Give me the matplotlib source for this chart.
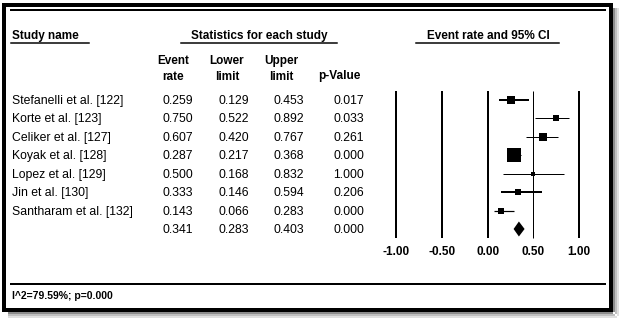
import matplotlib
matplotlib.use("Agg")
import matplotlib.pyplot as plt
from matplotlib.patches import Rectangle

plt.rcParams['font.family'] = ['Liberation Sans', 'DejaVu Sans']

# data
studies = ['Stefanelli et al. [122]', 'Korte et al. [123]', 'Celiker et al. [127]',
           'Koyak et al. [128]', 'Lopez et al. [129]', 'Jin et al. [130]',
           'Santharam et al. [132]', '']
event_rate = [0.259, 0.750, 0.607, 0.287, 0.500, 0.333, 0.143, 0.341]
lower = [0.129, 0.522, 0.420, 0.217, 0.168, 0.146, 0.066, 0.283]
upper = [0.453, 0.892, 0.767, 0.368, 0.832, 0.594, 0.283, 0.403]
p_value = [0.017, 0.033, 0.261, 0.000, 1.000, 0.206, 0.000, 0.000]
ticks = [-1.0, -0.5, 0.0, 0.5, 1.0]
footer = 'I^2=79.59%; p=0.000'

# styles (pixel sizes of boxes and CI lines)
box_px = [7.5, 5.5, 7.5, 14, 4, 5.5, 6.5]
ci_px = [2, 1, 1, 1, 1, 2, 1.2]

W, H, DPI = 622, 321, 100
PT = 72.0 / DPI  # points per pixel

# layout in pixels
row0, row_h = 99.7, 18.47
x0_px, unit_px = 487.65, 91.65

fig = plt.figure(figsize=(W / DPI, H / DPI), dpi=DPI)

# background axes in pixel units
ax = fig.add_axes([0, 0, 1, 1])
ax.set_xlim(0, W)
ax.set_ylim(H, 0)
ax.axis('off')

# drop shadow
for i, a in enumerate([0.45, 0.25, 0.12]):
    ax.add_patch(Rectangle((613 + i * 2, 8), 2, 304 + i * 2, color='black', alpha=a, lw=0))
    ax.add_patch(Rectangle((8, 312 + i * 2), 605 + i * 2, 2, color='black', alpha=a, lw=0))

# outer frame
ax.add_patch(Rectangle((4, 4.5), 607, 305, fill=False, ec='black', lw=4 * PT))
ax.plot([11, 605], [10, 10], color='black', lw=2 * PT)
ax.plot([11, 605], [283.7, 283.7], color='black', lw=2 * PT)

fs = 8.5
fs_row = 8.8
# headers
ax.text(12, 39, 'Study name', fontsize=fs, fontweight='bold')
ax.plot([11, 89], [42.7, 42.7], color='black', lw=1.5 * PT)
ax.text(259.3, 39, 'Statistics for each study', fontsize=fs, fontweight='bold', ha='center')
ax.plot([181, 337], [42.7, 42.7], color='black', lw=1.5 * PT)
ax.text(488, 39, 'Event rate and 95% CI', fontsize=fs, fontweight='bold', ha='center')
ax.plot([416, 559], [42.7, 42.7], color='black', lw=1.5 * PT)

col_heads = [('Event', 'rate', 173.5), ('Lower', 'limit', 227), ('Upper', 'limit', 281)]
for top, bot, cx in col_heads:
    ax.text(cx, 64, top, fontsize=fs, fontweight='bold', ha='center')
    ax.text(cx, 79.5, bot, fontsize=fs, fontweight='bold', ha='center')
ax.text(339.7, 79.5, 'p-Value', fontsize=fs, fontweight='bold', ha='center')

# table rows
for i in range(len(studies)):
    yb = row0 + row_h * i + 4
    ax.text(12, yb, studies[i], fontsize=fs_row)
    ax.text(193.3, yb, f'{event_rate[i]:.3f}', fontsize=fs_row, ha='right')
    ax.text(249.3, yb, f'{lower[i]:.3f}', fontsize=fs_row, ha='right')
    ax.text(303.7, yb, f'{upper[i]:.3f}', fontsize=fs_row, ha='right')
    ax.text(364.3, yb, f'{p_value[i]:.3f}', fontsize=fs_row, ha='right')

ax.text(11.7, 299.3, footer, fontsize=7.5, fontweight='bold')

# forest axes in data units (x = event rate, y = row index)
fax = fig.add_axes([0, 0, 1, 1])
fax.patch.set_alpha(0)
fax.axis('off')
fax.set_xlim(-x0_px / unit_px, (W - x0_px) / unit_px)
fax.set_ylim((H - row0) / row_h, -row0 / row_h)

for t in ticks:
    lw = 1 if t == 0.5 else 2
    fax.vlines(t, -0.487, 7.47, color='black', lw=lw * PT)
    fax.text(t, 8.23, f'{t:.2f}', fontsize=fs, fontweight='bold', ha='center', va='center')

n = len(box_px)
for i in range(n):
    fax.plot([lower[i], upper[i]], [i, i], color='black', lw=ci_px[i] * PT, solid_capstyle='butt')
    fax.plot(event_rate[i], i, marker='s', color='black', markersize=box_px[i] * PT,
             markeredgewidth=0, linestyle='none')

# summary diamond
half_h = 7.5 / row_h
fax.fill([lower[n], event_rate[n], upper[n], event_rate[n]],
         [n, n - half_h, n, n + half_h], color='black', lw=0)

fig.savefig('out.png', dpi=DPI)
